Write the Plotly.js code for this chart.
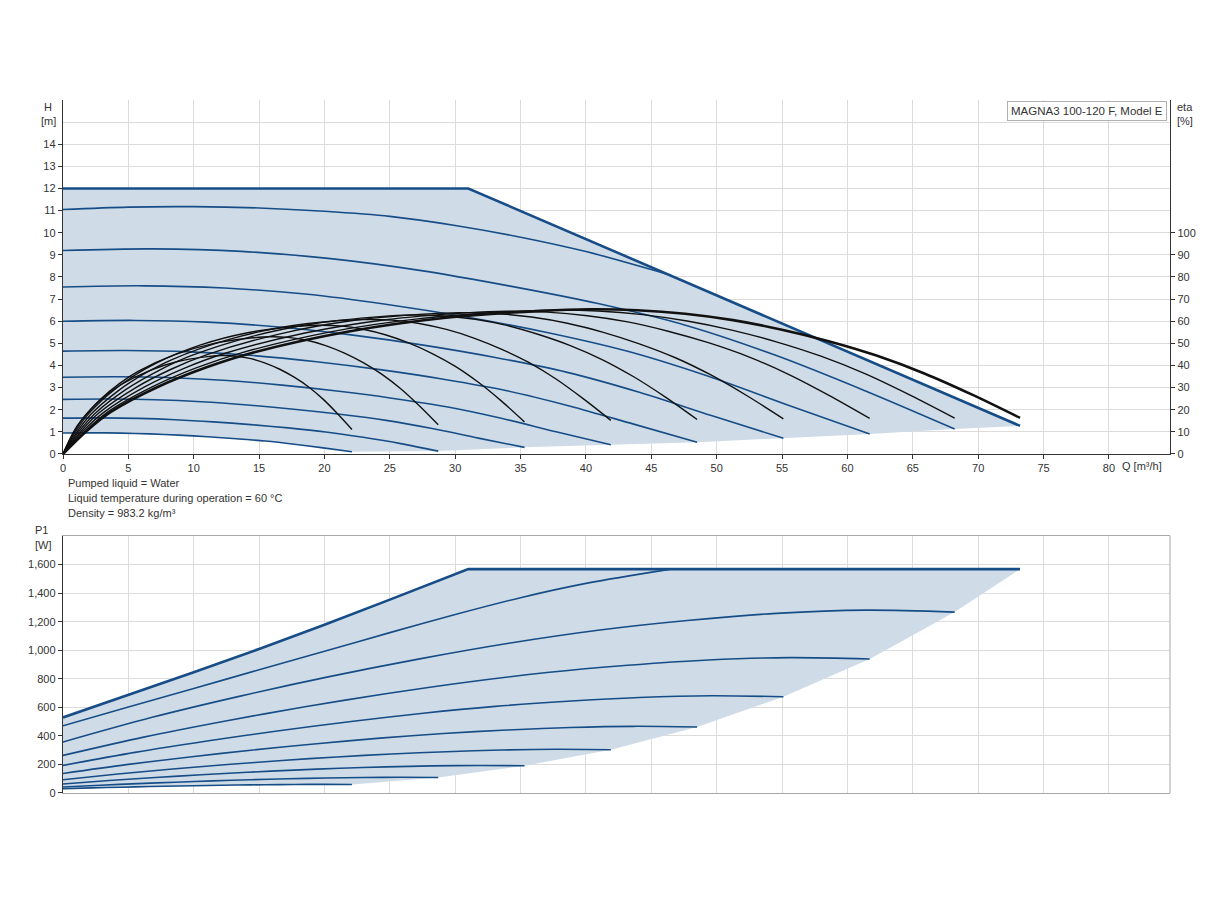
<!DOCTYPE html>
<html><head><meta charset="utf-8">
<script src="https://cdn.plot.ly/plotly-3.0.1.min.js"></script>
<style>body{margin:0;background:#fff}#chart{width:1224px;height:900px}</style>
</head><body><div id="chart"></div>
<script>
// ---------- flow sample points (m3/h) for the speed curves ----------
const q1 = [0, 2.21, 4.42, 6.63, 8.84, 11.05, 13.26, 15.47, 17.68, 19.89, 22.1];
const q2 = [0, 2.87, 5.74, 8.61, 11.48, 14.35, 17.22, 20.09, 22.96, 25.83, 28.7];
const q3 = [0, 3.53, 7.06, 10.59, 14.12, 17.65, 21.18, 24.71, 28.24, 31.77, 35.3];
const q4 = [0, 4.19, 8.38, 12.57, 16.76, 20.95, 25.14, 29.33, 33.52, 37.71, 41.9];
const q5 = [0, 4.85, 9.7, 14.55, 19.4, 24.25, 29.1, 33.95, 38.8, 43.65, 48.5];
const q6 = [0, 5.51, 11.02, 16.53, 22.04, 27.55, 33.06, 38.57, 44.08, 49.59, 55.1];
const q7 = [0, 6.17, 12.34, 18.51, 24.68, 30.85, 37.02, 43.19, 49.36, 55.53, 61.7];
const q8 = [0, 6.82, 13.64, 20.46, 27.28, 34.1, 40.92, 47.74, 54.56, 61.38, 68.2];
const q9 = [0, 5, 10, 15, 20, 25, 30, 35, 40, 46.5];

// ---------- head H [m] ----------
const h1 = [0.95, 0.956, 0.943, 0.909, 0.852, 0.779, 0.691, 0.584, 0.442, 0.276, 0.10];
const h2 = [1.62, 1.63, 1.609, 1.55, 1.453, 1.328, 1.178, 0.996, 0.753, 0.47, 0.13];
const h3 = [2.47, 2.485, 2.453, 2.364, 2.216, 2.025, 1.796, 1.519, 1.149, 0.716, 0.30];
const h4 = [3.47, 3.491, 3.446, 3.321, 3.113, 2.845, 2.523, 2.134, 1.614, 1.006, 0.42];
const h5 = [4.65, 4.678, 4.617, 4.45, 4.171, 3.813, 3.381, 2.86, 2.162, 1.349, 0.53];
const h6 = [6.0, 6.036, 5.958, 5.742, 5.382, 4.92, 4.362, 3.69, 2.79, 1.74, 0.71];
const h7 = [7.55, 7.6, 7.5, 7.23, 6.77, 6.19, 5.49, 4.64, 3.51, 2.19, 0.9];
const h8 = [9.2, 9.27, 9.16, 8.83, 8.3, 7.6, 6.8, 5.8, 4.45, 2.85, 1.13];
const h9 = [11.05, 11.16, 11.18, 11.12, 10.97, 10.74, 10.33, 9.8, 9.15, 8.08];
const hMaxQ = [0, 31, 73.2];
const hMax = [12, 12, 1.27];
const endQ = [22.1, 28.7, 35.3, 41.9, 48.5, 55.1, 61.7, 68.2, 73.2];
const endH = [0.10, 0.13, 0.30, 0.42, 0.53, 0.71, 0.90, 1.13, 1.27];

// ---------- efficiency eta [%] ----------
const eq1 = [0, 0.55, 1.11, 2.21, 3.32, 4.42, 6.63, 8.84, 11.05, 12.16, 13.26, 14.37, 15.47, 16.58, 17.68, 18.79, 19.89, 21.0, 22.1];
const ev1 = [0, 7.1, 12.9, 20.7, 26.7, 31.3, 37.7, 41.9, 44.0, 44.5, 44.2, 43.1, 41.1, 38.3, 34.7, 30.3, 24.8, 18.2, 11.1];
const eq2 = [0, 0.72, 1.44, 2.87, 4.31, 5.74, 8.61, 11.48, 14.35, 15.79, 17.22, 18.66, 20.09, 21.53, 22.96, 24.4, 25.83, 27.27, 28.7];
const ev2 = [0, 8.5, 15.4, 24.7, 31.8, 37.3, 45.0, 49.9, 52.4, 53.0, 52.7, 51.4, 49.0, 45.6, 41.3, 36.0, 29.5, 21.7, 13.2];
const eq3 = [0, 0.88, 1.77, 3.53, 5.3, 7.06, 10.59, 14.12, 17.65, 19.42, 21.18, 22.95, 24.71, 26.48, 28.24, 30.01, 31.77, 33.54, 35.3];
const ev3 = [0, 9.3, 16.9, 27.1, 34.9, 40.9, 49.4, 54.8, 57.6, 58.2, 57.9, 56.4, 53.8, 50.1, 45.4, 39.6, 32.4, 23.9, 14.5];
const eq4 = [0, 1.05, 2.1, 4.19, 6.29, 8.38, 12.57, 16.76, 20.95, 23.05, 25.14, 27.24, 29.33, 31.43, 33.52, 35.62, 37.71, 39.81, 41.9];
const ev4 = [0, 9.8, 17.7, 28.4, 36.5, 42.8, 51.6, 57.3, 60.2, 60.8, 60.5, 59.0, 56.3, 52.4, 47.4, 41.4, 33.9, 24.9, 15.2];
const eq5 = [0, 1.21, 2.43, 4.85, 7.28, 9.7, 14.55, 19.4, 24.25, 26.68, 29.1, 31.53, 33.95, 36.38, 38.8, 41.23, 43.65, 46.08, 48.5];
const ev5 = [0, 10.1, 18.2, 29.3, 37.6, 44.2, 53.3, 59.1, 62.1, 62.8, 62.4, 60.9, 58.1, 54.0, 49.0, 42.7, 34.9, 25.7, 15.6];
const eq6 = [0, 1.38, 2.76, 5.51, 8.27, 11.02, 16.53, 22.04, 27.55, 30.31, 33.06, 35.82, 38.57, 41.33, 44.08, 46.84, 49.59, 52.35, 55.1];
const ev6 = [0, 10.3, 18.6, 29.8, 38.3, 44.9, 54.2, 60.2, 63.2, 63.9, 63.5, 61.9, 59.1, 55.0, 49.8, 43.5, 35.6, 26.2, 15.9];
const eq7 = [0, 1.54, 3.09, 6.17, 9.26, 12.34, 18.51, 24.68, 30.85, 33.94, 37.02, 40.11, 43.19, 46.28, 49.36, 52.45, 55.53, 58.62, 61.7];
const ev7 = [0, 10.4, 18.7, 30.1, 38.7, 45.4, 54.7, 60.7, 63.8, 64.5, 64.1, 62.5, 59.7, 55.5, 50.3, 43.9, 35.9, 26.4, 16.1];
const eq8 = [0, 1.71, 3.41, 6.82, 10.23, 13.64, 20.46, 27.28, 34.1, 37.51, 40.92, 44.33, 47.74, 51.15, 54.56, 57.97, 61.38, 64.79, 68.2];
const ev8 = [0, 10.4, 18.9, 30.3, 39.0, 45.7, 55.2, 61.2, 64.3, 65.0, 64.6, 63.0, 60.1, 56.0, 50.7, 44.2, 36.2, 26.6, 16.2];
const eq9 = [0, 1.83, 3.66, 7.32, 10.98, 14.64, 21.96, 29.28, 36.6, 40.26, 43.92, 47.58, 51.24, 54.9, 58.56, 62.22, 65.88, 69.54, 73.2];
const ev9 = [0, 10.5, 19, 30.5, 39.2, 46, 55.5, 61.6, 64.7, 65.4, 65.0, 63.4, 60.5, 56.3, 51.0, 44.5, 36.4, 26.8, 16.3];

// ---------- power P1 [W] ----------
const p1 = [30, 35.7, 40.65, 45.15, 49.2, 52.8, 55.8, 58.05, 59.7, 60.45, 60];
const p2 = [42, 54.7, 65.8, 75.8, 84.9, 92.9, 99.6, 104.6, 108.3, 110, 109];
const p3 = [63, 87.3, 108.4, 127.6, 144.9, 160.3, 173.1, 182.7, 189.7, 192.9, 191];
const p4 = [93, 132.9, 167.6, 199.1, 227.4, 252.6, 273.6, 289.4, 300.9, 306.2, 303];
const p5 = [137, 198.8, 252.4, 301.1, 345, 384, 416.5, 440.9, 458.8, 466.9, 462];
const p6 = [193, 284.4, 363.8, 435.9, 500.8, 558.6, 606.7, 642.7, 669.2, 681.2, 674];
const p7 = [263, 391.3, 502.6, 603.9, 695, 776, 843.5, 894.1, 931.3, 948.1, 938];
const p8 = [357, 529.9, 680.1, 816.6, 939.4, 1048.6, 1139.6, 1207.9, 1257.9, 1280.7, 1267];
const p9 = [471, 602, 732, 863, 993, 1123, 1250, 1368, 1468, 1568];
const pMaxQ = [0, 5, 10, 15, 20, 25, 31, 73.2];
const pMax = [529, 685, 845, 1009, 1178, 1354, 1568, 1568];
const endP = [60, 109, 191, 303, 462, 674, 938, 1267, 1568];

// ---------- axis ticks & texts ----------
const qTicks = [0, 5, 10, 15, 20, 25, 30, 35, 40, 45, 50, 55, 60, 65, 70, 75, 80];
const hTicks = [0, 1, 2, 3, 4, 5, 6, 7, 8, 9, 10, 11, 12, 13, 14];
const etaTicks = [0, 10, 20, 30, 40, 50, 60, 70, 80, 90, 100];
const pTicks = [0, 200, 400, 600, 800, 1000, 1200, 1400, 1600];
const notes = ['Pumped liquid = Water', 'Liquid temperature during operation = 60 °C', 'Density = 983.2 kg/m³'];
const modelName = 'MAGNA3 100-120 F, Model E';

// ---------- styling ----------
const BLUE = '#174d87';
const FILL = 'rgb(207,220,232)';
const GRID = '#dcdcdc';
const AX = '#333333';
const FONT = 'Liberation Sans, Arial, sans-serif';

const hQs = [q1, q2, q3, q4, q5, q6, q7, q8, q9];
const hHs = [h1, h2, h3, h4, h5, h6, h7, h8, h9];
const pPs = [p1, p2, p3, p4, p5, p6, p7, p8, p9];
const eQs = [eq1, eq2, eq3, eq4, eq5, eq6, eq7, eq8, eq9];
const eVs = [ev1, ev2, ev3, ev4, ev5, ev6, ev7, ev8, ev9];

const traces = [];
const rev = a => a.slice().reverse();
// top shaded region
traces.push({
  x: hMaxQ.concat(rev(endQ), rev(q1)),
  y: hMax.concat(rev(endH), rev(h1)),
  xaxis: 'x', yaxis: 'y', mode: 'lines', fill: 'toself', fillcolor: FILL,
  line: {width: 0}, hoverinfo: 'skip', showlegend: false
});
for (let i = 0; i < 9; i++) {
  traces.push({x: hQs[i], y: hHs[i], xaxis: 'x', yaxis: 'y', mode: 'lines',
    line: {color: BLUE, width: 1.6, shape: 'spline', smoothing: 0.9}, showlegend: false});
}
traces.push({x: hMaxQ, y: hMax, xaxis: 'x', yaxis: 'y', mode: 'lines',
  line: {color: BLUE, width: 2.6}, showlegend: false});
// efficiency curves
for (let i = 0; i < 9; i++) {
  traces.push({x: eQs[i], y: eVs[i], xaxis: 'x', yaxis: 'y2', mode: 'lines',
    line: {color: '#111111', width: i === 8 ? 2.6 : 1.4, shape: 'spline', smoothing: 0.9}, showlegend: false});
}
// bottom shaded region
traces.push({
  x: pMaxQ.concat(rev(endQ), rev(q1)),
  y: pMax.concat(rev(endP), rev(p1)),
  xaxis: 'x2', yaxis: 'y3', mode: 'lines', fill: 'toself', fillcolor: FILL,
  line: {width: 0}, hoverinfo: 'skip', showlegend: false
});
for (let i = 0; i < 9; i++) {
  traces.push({x: hQs[i], y: pPs[i], xaxis: 'x2', yaxis: 'y3', mode: 'lines',
    line: {color: BLUE, width: 1.6, shape: 'spline', smoothing: 0.9}, showlegend: false});
}
traces.push({x: pMaxQ, y: pMax, xaxis: 'x2', yaxis: 'y3', mode: 'lines',
  line: {color: BLUE, width: 2.6}, showlegend: false});

const tickFont = {family: FONT, size: 11, color: AX};
const layout = {
  width: 1224, height: 900,
  margin: {l: 63, r: 54, t: 100, b: 107},
  paper_bgcolor: '#ffffff', plot_bgcolor: 'rgba(0,0,0,0)',
  font: {family: FONT, size: 11, color: AX},
  showlegend: false,
  xaxis: {domain: [0, 1], anchor: 'y', range: [0, 84.67], tickmode: 'array', tickvals: qTicks,
    showgrid: true, gridcolor: GRID, zeroline: false, showline: true, linecolor: AX, linewidth: 1.2,
    ticks: 'outside', ticklen: 4, tickcolor: AX, tickfont: tickFont},
  yaxis: {domain: [0.4892, 1], anchor: 'x', range: [0, 16], tickmode: 'array', tickvals: hTicks,
    showgrid: true, gridcolor: GRID, zeroline: false, showline: true, linecolor: AX, linewidth: 1.2,
    ticks: 'outside', ticklen: 4, tickcolor: AX, tickfont: tickFont,
    minor: {tickmode: 'array', tickvals: [15, 16], showgrid: true, gridcolor: GRID, ticks: ''}},
  yaxis2: {overlaying: 'y', side: 'right', anchor: 'x', range: [0, 160], tickmode: 'array', tickvals: etaTicks,
    showgrid: false, zeroline: false, showline: true, linecolor: AX, linewidth: 1.2,
    ticks: 'outside', ticklen: 4, tickcolor: AX, tickfont: tickFont},
  xaxis2: {domain: [0, 1], anchor: 'y3', range: [0, 84.67], tickmode: 'array', tickvals: qTicks,
    showticklabels: false, showgrid: true, gridcolor: GRID, zeroline: false,
    showline: true, linecolor: '#a8a8a8', mirror: true, ticks: ''},
  yaxis3: {domain: [0, 0.3709], anchor: 'x2', range: [0, 1800], tickmode: 'array', tickvals: pTicks,
    tickformat: ',d', showgrid: true, gridcolor: GRID, zeroline: false,
    showline: true, linecolor: AX, linewidth: 1.2, ticks: 'outside', ticklen: 4, tickcolor: AX, tickfont: tickFont},
  shapes: [
    {type: 'line', xref: 'x2 domain', yref: 'y3 domain', x0: 1, x1: 1, y0: 0, y1: 1,
     line: {color: '#a8a8a8', width: 1}}
  ],
  annotations: [
    {text: 'H', xref: 'paper', yref: 'paper', x: -0.0135, y: 0.9899, showarrow: false, xanchor: 'center', yanchor: 'middle', font: tickFont},
    {text: '[m]', xref: 'paper', yref: 'paper', x: -0.0135, y: 0.9697, showarrow: false, xanchor: 'center', yanchor: 'middle', font: tickFont},
    {text: 'eta', xref: 'paper', yref: 'paper', x: 1.0136, y: 0.9899, showarrow: false, xanchor: 'center', yanchor: 'middle', font: tickFont},
    {text: '[%]', xref: 'paper', yref: 'paper', x: 1.0136, y: 0.9697, showarrow: false, xanchor: 'center', yanchor: 'middle', font: tickFont},
    {text: 'Q [m³/h]', xref: 'paper', yref: 'paper', x: 0.955, y: 0.4719, showarrow: false, xanchor: 'left', yanchor: 'middle', font: tickFont},
    {text: 'P1', xref: 'paper', yref: 'paper', x: -0.019, y: 0.3795, showarrow: false, xanchor: 'center', yanchor: 'middle', font: tickFont},
    {text: '[W]', xref: 'paper', yref: 'paper', x: -0.018, y: 0.3585, showarrow: false, xanchor: 'center', yanchor: 'middle', font: tickFont},
    {text: notes[0], xref: 'paper', yref: 'paper', x: 0.0027, y: 0.4473, showarrow: false, xanchor: 'left', yanchor: 'middle', font: tickFont},
    {text: notes[1], xref: 'paper', yref: 'paper', x: 0.0027, y: 0.4257, showarrow: false, xanchor: 'left', yanchor: 'middle', font: tickFont},
    {text: notes[2], xref: 'paper', yref: 'paper', x: 0.0027, y: 0.4040, showarrow: false, xanchor: 'left', yanchor: 'middle', font: tickFont},
    {text: modelName, xref: 'paper', yref: 'paper', x: 0.9973, y: 0.9986, showarrow: false, xanchor: 'right', yanchor: 'top',
     bgcolor: '#ffffff', bordercolor: '#b0b0b0', borderwidth: 1, borderpad: 3, font: {family: FONT, size: 11.5, color: AX}}
  ]
};
Plotly.newPlot('chart', traces, layout, {staticPlot: true, displayModeBar: false});
</script></body></html>
